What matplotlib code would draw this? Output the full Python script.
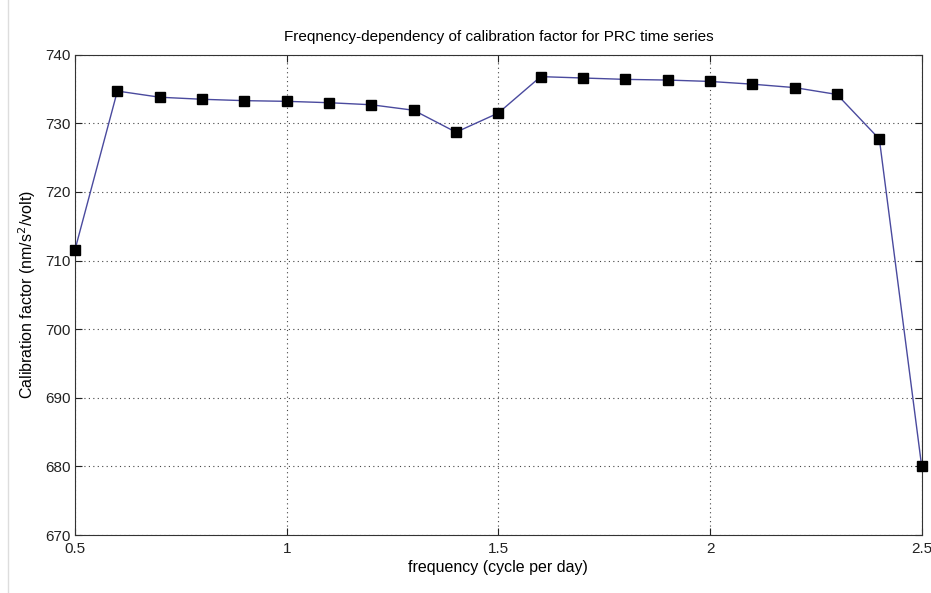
import matplotlib

matplotlib.use("Agg")
import matplotlib.pyplot as plt

# frequency (cycle per day) and calibration factor (nm/s^2/volt)
freq = [0.5, 0.6, 0.7, 0.8, 0.9, 1.0, 1.1, 1.2, 1.3, 1.4, 1.5,
        1.6, 1.7, 1.8, 1.9, 2.0, 2.1, 2.2, 2.3, 2.4, 2.5]
calib = [711.6, 734.7, 733.8, 733.5, 733.3, 733.2, 733.0, 732.7, 731.9, 728.7, 731.5,
         736.8, 736.6, 736.4, 736.3, 736.1, 735.7, 735.2, 734.2, 727.7, 680.0]

x_ticks = [0.5, 1, 1.5, 2, 2.5]
x_ticklabels = ["0.5", "1", "1.5", "2", "2.5"]
y_ticks = [670, 680, 690, 700, 710, 720, 730, 740]

plt.rcParams["font.family"] = ["Liberation Sans", "DejaVu Sans"]

fig = plt.figure(figsize=(9.31, 5.93), dpi=100)
ax = fig.add_axes([0.0806, 0.0978, 0.9094, 0.81])

ax.plot(freq, calib, color="#4a4a9e", linewidth=1.0, marker="s", markersize=7,
        markerfacecolor="black", markeredgecolor="black", clip_on=False, zorder=3)

ax.set_xlim(0.5, 2.5)
ax.set_ylim(670, 740)
ax.set_xticks(x_ticks)
ax.set_xticklabels(x_ticklabels)
ax.set_yticks(y_ticks)
ax.tick_params(direction="in", length=5, width=0.8, top=True, right=True,
               labelsize=11, colors="#222222", pad=3)
ax.tick_params(axis="x", pad=5)
ax.grid(True, linestyle=(0, (1, 3)), color="#444444", linewidth=0.8)
for s in ax.spines.values():
    s.set_color("#333333")
    s.set_linewidth(0.8)

ax.set_title("Freqnency-dependency of calibration factor for PRC time series",
             fontsize=11, pad=10)
ax.set_xlabel("frequency (cycle per day)", fontsize=11.5, labelpad=3)
ax.set_ylabel("Calibration factor (nm/s$^2$/volt)", fontsize=11.5, labelpad=5)

# faint page border on the left like the source screenshot
fig.add_artist(plt.Line2D([0.009, 0.009], [0.0, 1.0], color="#dddddd", linewidth=1))

fig.savefig("out.png", dpi=100)
